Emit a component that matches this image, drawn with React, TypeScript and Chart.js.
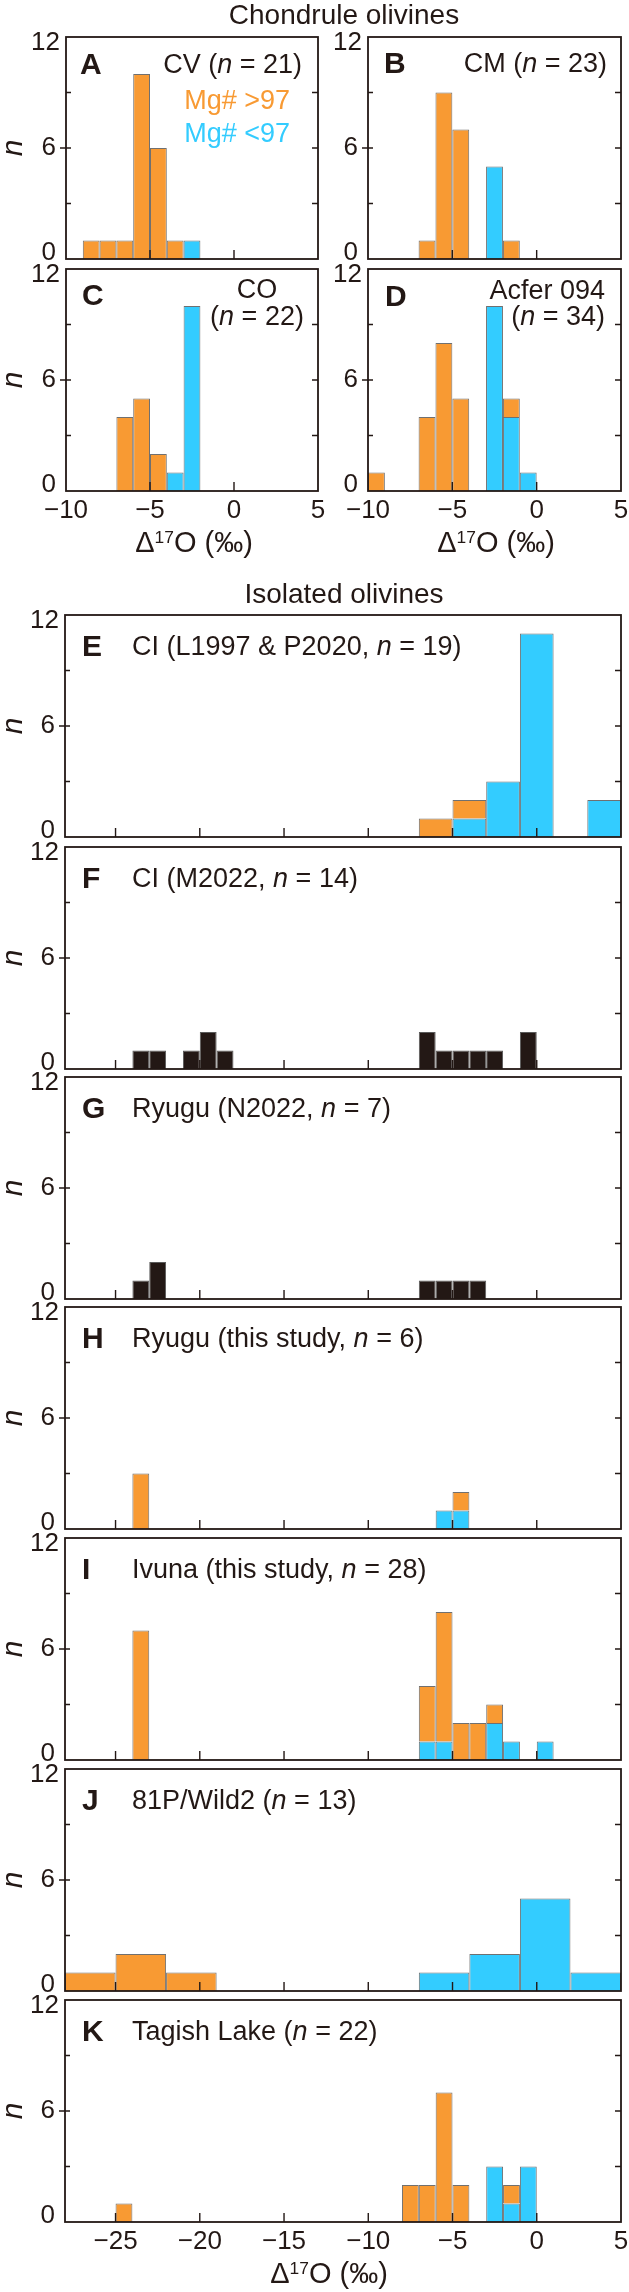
import React, { useEffect, useRef } from 'react';
import { Chart, registerables } from 'chart.js';

Chart.register(...registerables);

// ---------------- data ----------------
const TOP_X_TICKS = [-10, -5, 0, 5];
const BOTTOM_X_TICKS = [-25, -20, -15, -10, -5, 0, 5];
const Y_TICKS = [0, 3, 6, 9, 12];
const Y_TICK_LABELS = [0, 6, 12];

// Chondrule olivines (1 permil bins, left edges)
const A_BINS = [-9, -8, -7, -6, -5, -4, -3];
const A_HIGH = [1, 1, 1, 10, 6, 1, 0];
const A_LOW = [0, 0, 0, 0, 0, 0, 1];

const B_BINS = [-7, -6, -5, -3, -2];
const B_HIGH = [1, 9, 7, 0, 1];
const B_LOW = [0, 0, 0, 5, 0];

const C_BINS = [-7, -6, -5, -4, -3];
const C_HIGH = [4, 5, 2, 0, 0];
const C_LOW = [0, 0, 0, 1, 10];

const D_BINS = [-10, -7, -6, -5, -3, -2, -1];
const D_HIGH = [1, 4, 8, 5, 0, 1, 0];
const D_LOW = [0, 0, 0, 0, 10, 4, 1];

// Isolated olivines
const E_BINS = [-7, -5, -3, -1, 1, 3]; // 2 permil bins
const E_HIGH = [1, 1, 0, 0, 0, 0];
const E_LOW = [0, 1, 3, 11, 0, 2];

const F_BINS = [-24, -23, -21, -20, -19, -7, -6, -5, -4, -3, -1];
const F_COUNTS = [1, 1, 1, 2, 1, 2, 1, 1, 1, 1, 2];

const G_BINS = [-24, -23, -7, -6, -5, -4];
const G_COUNTS = [1, 2, 1, 1, 1, 1];

const H_BINS = [-24, -6, -5];
const H_HIGH = [3, 0, 1];
const H_LOW = [0, 1, 1];

const I_BINS = [-24, -7, -6, -5, -4, -3, -2, 0];
const I_HIGH = [7, 3, 7, 2, 2, 1, 0, 0];
const I_LOW = [0, 1, 1, 0, 0, 2, 1, 1];

const J_BINS = [-28, -25, -22, -7, -4, -1, 2]; // 3 permil bins
const J_HIGH = [1, 2, 1, 0, 0, 0, 0];
const J_LOW = [0, 0, 0, 1, 2, 5, 1];

const K_BINS = [-25, -8, -7, -6, -5, -3, -2, -1];
const K_HIGH = [1, 2, 2, 7, 2, 0, 1, 0];
const K_LOW = [0, 0, 0, 0, 0, 3, 1, 3];

const BOTTOM_LETTERS = ['E', 'F', 'G', 'H', 'I', 'J', 'K'];
const BOTTOM_SOURCES = [
  'CI (L1997 & P2020, ',
  'CI (M2022, ',
  'Ryugu (N2022, ',
  'Ryugu (this study, ',
  'Ivuna (this study, ',
  '81P/Wild2 (',
  'Tagish Lake (',
];
const BOTTOM_N = [19, 14, 7, 6, 28, 13, 22];

// ---------------- styles / layout ----------------
const FONT = '"Liberation Sans", Arial, Helvetica, sans-serif';
const INK = '#231815';
const ORANGE = '#F89A33';
const CYAN = '#33CCFF';
const DARK = '#231815';
const EDGE = '#707070';

const PAD_L = 64;
const PAD_T = 20;
const PAD_R = 12;
const PAD_B = 36;
const PLOT_H = 222;
const BOTTOM_TOPS = [615, 847, 1077, 1307, 1538, 1769, 2000];

type Spec = {
  id: string;
  bins: number[];
  width: number;
  high?: number[];
  low?: number[];
  dark?: number[];
  xMin: number;
  xMax: number;
  xTicks: number[];
  showXLabels: boolean;
  left: number;
  top: number;
  w: number;
};

const fmt = (v: number) => (v < 0 ? '\u2212' + Math.abs(v) : String(v));

function axisPlugin(xTicks: number[], showXLabels: boolean) {
  return {
    id: 'frameAxes',
    afterDatasetsDraw(chart: any) {
      const { ctx, chartArea: a } = chart;
      const xs = chart.scales.x;
      const ys = chart.scales.y;
      ctx.save();
      ctx.strokeStyle = INK;
      ctx.fillStyle = INK;
      ctx.lineWidth = 1.4;
      ctx.beginPath();
      for (const v of xTicks) {
        const px = xs.getPixelForValue(v);
        if (px < a.left + 2 || px > a.right - 2) continue;
        ctx.moveTo(px, a.bottom);
        ctx.lineTo(px, a.bottom - 9);
      }
      for (const v of Y_TICKS) {
        if (v === 0 || v === 12) continue;
        const py = ys.getPixelForValue(v);
        const out = Y_TICK_LABELS.includes(v) ? 6 : 0;
        ctx.moveTo(a.left - out, py);
        ctx.lineTo(a.left + 5, py);
        ctx.moveTo(a.right, py);
        ctx.lineTo(a.right - 6, py);
      }
      ctx.stroke();
      ctx.lineWidth = 1.8;
      ctx.strokeRect(a.left, a.top, a.right - a.left, a.bottom - a.top);

      ctx.font = `26px ${FONT}`;
      ctx.textAlign = 'right';
      ctx.textBaseline = 'middle';
      for (const v of Y_TICK_LABELS) {
        const shift = v === 12 ? 6 : v === 0 ? -6 : 0;
        const gap = v === 12 ? 6 : 10;
        ctx.fillText(String(v), a.left - gap, ys.getPixelForValue(v) + shift);
      }
      if (showXLabels) {
        ctx.textAlign = 'center';
        for (const v of xTicks) {
          ctx.fillText(fmt(v), xs.getPixelForValue(v), a.bottom + 20);
        }
      }
      ctx.restore();
    },
  };
}

function HistPanel({ spec }: { spec: Spec }) {
  const ref = useRef<HTMLCanvasElement>(null);
  const cw = spec.w + PAD_L + PAD_R;
  const chh = PLOT_H + PAD_T + PAD_B;
  useEffect(() => {
    if (!ref.current) return;
    const centers = spec.bins.map((b) => b + spec.width / 2);
    const common = {
      borderColor: EDGE,
      borderWidth: 1,
      stack: 's',
      inflateAmount: 0,
      barPercentage: 1,
      categoryPercentage: 1,
    };
    const datasets: any[] = [];
    if (spec.dark) {
      datasets.push({
        ...common,
        label: 'n',
        data: centers.map((x, i) => ({ x, y: spec.dark![i] })),
        backgroundColor: DARK,
        borderColor: '#5a5a5a',
      });
    } else {
      datasets.push({
        ...common,
        label: 'Mg# <97',
        data: centers.map((x, i) => ({ x, y: spec.low![i] })),
        backgroundColor: CYAN,
      });
      datasets.push({
        ...common,
        label: 'Mg# >97',
        data: centers.map((x, i) => ({ x, y: spec.high![i] })),
        backgroundColor: ORANGE,
      });
    }
    const chart = new Chart(ref.current, {
      type: 'bar',
      data: { datasets },
      options: {
        animation: false,
        responsive: false,
        devicePixelRatio: 1,
        events: [],
        layout: { padding: { left: PAD_L, right: PAD_R, top: PAD_T, bottom: PAD_B } },
        plugins: { legend: { display: false }, tooltip: { enabled: false } },
        scales: {
          x: {
            type: 'linear',
            min: spec.xMin,
            max: spec.xMax,
            offset: false,
            stacked: true,
            display: false,
            afterBuildTicks: (s: any) => {
              s.ticks = spec.xTicks.map((v) => ({ value: v }));
            },
          },
          y: { type: 'linear', min: 0, max: 12, stacked: true, display: false },
        },
      } as any,
      plugins: [axisPlugin(spec.xTicks, spec.showXLabels)],
    });
    return () => chart.destroy();
  }, []);
  return (
    <canvas
      ref={ref}
      width={cw}
      height={chh}
      style={{ position: 'absolute', left: spec.left - PAD_L, top: spec.top - PAD_T, width: cw, height: chh }}
    />
  );
}

function Txt(props: {
  x: number;
  y: number;
  align?: 'left' | 'right' | 'center';
  size: number;
  bold?: boolean;
  italic?: boolean;
  color?: string;
  rotate?: number;
  children: any;
}) {
  const { x, y, align = 'left', size, bold, italic, color = INK, rotate, children } = props;
  const tx = align === 'left' ? '0%' : align === 'right' ? '-100%' : '-50%';
  return (
    <div
      style={{
        position: 'absolute',
        left: x,
        top: y,
        transform: `translate(${tx}, -50%)${rotate ? ` rotate(${rotate}deg)` : ''}`,
        fontSize: size,
        lineHeight: 1,
        fontWeight: bold ? 700 : 400,
        fontStyle: italic ? 'italic' : 'normal',
        color,
        whiteSpace: 'nowrap',
        fontFamily: FONT,
      }}
    >
      {children}
    </div>
  );
}

const XTitle = () => (
  <span>
    Δ<span style={{ fontSize: '0.6em', position: 'relative', top: '-0.5em' }}>17</span>O (‰)
  </span>
);

const TOP_PANELS: Spec[] = [
  { id: 'A', bins: A_BINS, width: 1, high: A_HIGH, low: A_LOW, xMin: -10, xMax: 5, xTicks: TOP_X_TICKS, showXLabels: false, left: 66, top: 37, w: 252 },
  { id: 'B', bins: B_BINS, width: 1, high: B_HIGH, low: B_LOW, xMin: -10, xMax: 5, xTicks: TOP_X_TICKS, showXLabels: false, left: 368, top: 37, w: 253 },
  { id: 'C', bins: C_BINS, width: 1, high: C_HIGH, low: C_LOW, xMin: -10, xMax: 5, xTicks: TOP_X_TICKS, showXLabels: true, left: 66, top: 269, w: 252 },
  { id: 'D', bins: D_BINS, width: 1, high: D_HIGH, low: D_LOW, xMin: -10, xMax: 5, xTicks: TOP_X_TICKS, showXLabels: true, left: 368, top: 269, w: 253 },
];

const BOTTOM_DATA: { bins: number[]; width: number; high?: number[]; low?: number[]; dark?: number[] }[] = [
  { bins: E_BINS, width: 2, high: E_HIGH, low: E_LOW },
  { bins: F_BINS, width: 1, dark: F_COUNTS },
  { bins: G_BINS, width: 1, dark: G_COUNTS },
  { bins: H_BINS, width: 1, high: H_HIGH, low: H_LOW },
  { bins: I_BINS, width: 1, high: I_HIGH, low: I_LOW },
  { bins: J_BINS, width: 3, high: J_HIGH, low: J_LOW },
  { bins: K_BINS, width: 1, high: K_HIGH, low: K_LOW },
];

const BOTTOM_PANELS: Spec[] = BOTTOM_DATA.map((d, i) => ({
  id: BOTTOM_LETTERS[i],
  ...d,
  xMin: -28,
  xMax: 5,
  xTicks: BOTTOM_X_TICKS,
  showXLabels: i === BOTTOM_DATA.length - 1,
  left: 65,
  top: BOTTOM_TOPS[i],
  w: 556,
}));

export default function App() {
  return (
    <div
      style={{
        position: 'absolute',
        left: 0,
        top: 0,
        width: 629,
        height: 2292,
        background: '#fff',
        overflow: 'hidden',
        fontFamily: FONT,
        color: INK,
      }}
    >
      {TOP_PANELS.map((p) => (
        <HistPanel key={p.id} spec={p} />
      ))}
      {BOTTOM_PANELS.map((p) => (
        <HistPanel key={p.id} spec={p} />
      ))}

      {/* Chondrule olivines */}
      <Txt x={344} y={15} align="center" size={28}>Chondrule olivines</Txt>
      <Txt x={80} y={64} size={30} bold>A</Txt>
      <Txt x={302} y={64} align="right" size={27}>CV (<i>n</i> = 21)</Txt>
      <Txt x={290} y={100} align="right" size={27} color={ORANGE}>Mg# &gt;97</Txt>
      <Txt x={290} y={133} align="right" size={27} color={CYAN}>Mg# &lt;97</Txt>
      <Txt x={384} y={63} size={30} bold>B</Txt>
      <Txt x={607} y={63} align="right" size={27}>CM (<i>n</i> = 23)</Txt>
      <Txt x={82} y={295} size={30} bold>C</Txt>
      <Txt x={257} y={289} align="center" size={27}>CO</Txt>
      <Txt x={257} y={316} align="center" size={27}>(<i>n</i> = 22)</Txt>
      <Txt x={385} y={296} size={30} bold>D</Txt>
      <Txt x={605} y={290} align="right" size={27}>Acfer 094</Txt>
      <Txt x={605} y={316} align="right" size={27}>(<i>n</i> = 34)</Txt>
      <Txt x={12} y={148} align="center" size={30} italic rotate={-90}>n</Txt>
      <Txt x={12} y={380} align="center" size={30} italic rotate={-90}>n</Txt>
      <Txt x={194} y={542} align="center" size={29}><XTitle /></Txt>
      <Txt x={496} y={542} align="center" size={29}><XTitle /></Txt>

      {/* Isolated olivines */}
      <Txt x={344} y={594} align="center" size={28}>Isolated olivines</Txt>
      {BOTTOM_TOPS.map((t, i) => (
        <React.Fragment key={'lab' + i}>
          <Txt x={82} y={t + 31} size={30} bold>{BOTTOM_LETTERS[i]}</Txt>
          <Txt x={132} y={t + 31} size={27}>
            {BOTTOM_SOURCES[i]}<i>n</i> = {BOTTOM_N[i]})
          </Txt>
          <Txt x={12} y={t + 111} align="center" size={30} italic rotate={-90}>n</Txt>
        </React.Fragment>
      ))}
      <Txt x={329} y={2273} align="center" size={29}><XTitle /></Txt>
    </div>
  );
}
